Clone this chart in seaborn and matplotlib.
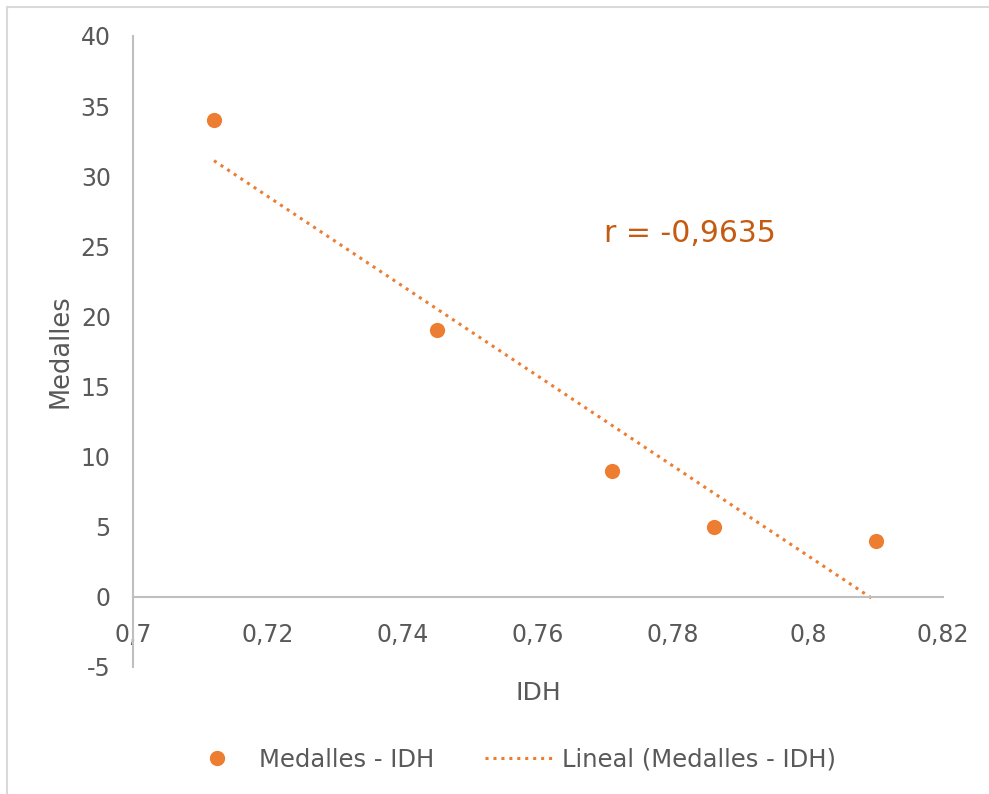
import matplotlib
matplotlib.use("Agg")
import matplotlib.pyplot as plt
import seaborn as sns
import numpy as np
import pandas as pd
from matplotlib.ticker import FuncFormatter
from matplotlib.lines import Line2D

idh = [0.712, 0.745, 0.771, 0.786, 0.810]
medalles = [34, 19, 9, 5, 4]
r_label = "r = -0,9635"

df = pd.DataFrame({"IDH": idh, "Medalles": medalles})

sns.set_style("white")
plt.rcParams['font.family'] = ['DejaVu Sans']

orange = "#ed7d31"
gray_text = "#595959"
axis_gray = "#bfbfbf"

fig = plt.figure(figsize=(9.89, 7.94), dpi=100)
ax = fig.add_axes([0.1345, 0.16, 0.819, 0.7947])

sns.scatterplot(data=df, x="IDH", y="Medalles", ax=ax, color=orange, s=120,
                edgecolor=orange, linewidth=0, zorder=3)

# linear trend line (least squares)
slope, intercept = np.polyfit(df["IDH"], df["Medalles"], 1)
xs = np.array([min(idh), max(idh)])
ax.plot(xs, slope * xs + intercept, color=orange, linestyle=(0, (1, 1.6)),
        linewidth=2.2, zorder=2)

ax.set_xlim(0.7, 0.82)
ax.set_ylim(-5, 40)
ax.set_xticks(np.arange(0.7, 0.8201, 0.02))
ax.set_yticks(np.arange(-5, 41, 5))
ax.xaxis.set_major_formatter(FuncFormatter(lambda v, p: f"{v:.2f}".rstrip("0").replace(".", ",")))
ax.yaxis.set_major_formatter(FuncFormatter(lambda v, p: f"{v:.0f}"))

for side in ["top", "right"]:
    ax.spines[side].set_visible(False)
ax.spines["bottom"].set_position(("data", 0))
for side in ["bottom", "left"]:
    ax.spines[side].set_color(axis_gray)
    ax.spines[side].set_linewidth(1.5)

ax.tick_params(axis="both", length=0, labelsize=17, labelcolor=gray_text)
ax.tick_params(axis="x", pad=19)
ax.tick_params(axis="y", pad=16)

ax.set_xlabel("IDH", fontsize=18, color=gray_text)
ax.set_ylabel("Medalles", fontsize=18.5, color=gray_text)
ax.xaxis.set_label_coords(0.5, -0.022)
ax.yaxis.set_label_coords(-0.074, 0.5)

ax.text(0.7825, 25.9, r_label, fontsize=21.5, color="#c55a11", ha="center", va="center")

handles = [
    Line2D([], [], marker="o", color=orange, linestyle="none", markersize=10),
    Line2D([], [], color=orange, linestyle=(0, (1, 1.6)), linewidth=2.2),
]
fig.legend(handles, ["Medalles - IDH", "Lineal (Medalles - IDH)"], loc="center",
           bbox_to_anchor=(0.515, 0.043), ncol=2, frameon=False, fontsize=17.5,
           labelcolor=gray_text, handlelength=2.8, columnspacing=2.1, handletextpad=0.33)

# chart area border (only left and top edges visible)
fig.add_artist(Line2D([7 / 989, 7 / 989], [0, 1 - 7 / 794], transform=fig.transFigure,
                      color="#d9d9d9", linewidth=1.5))
fig.add_artist(Line2D([7 / 989, 1], [1 - 7 / 794, 1 - 7 / 794], transform=fig.transFigure,
                      color="#d9d9d9", linewidth=1.5))

fig.savefig("out.png", dpi=100)
